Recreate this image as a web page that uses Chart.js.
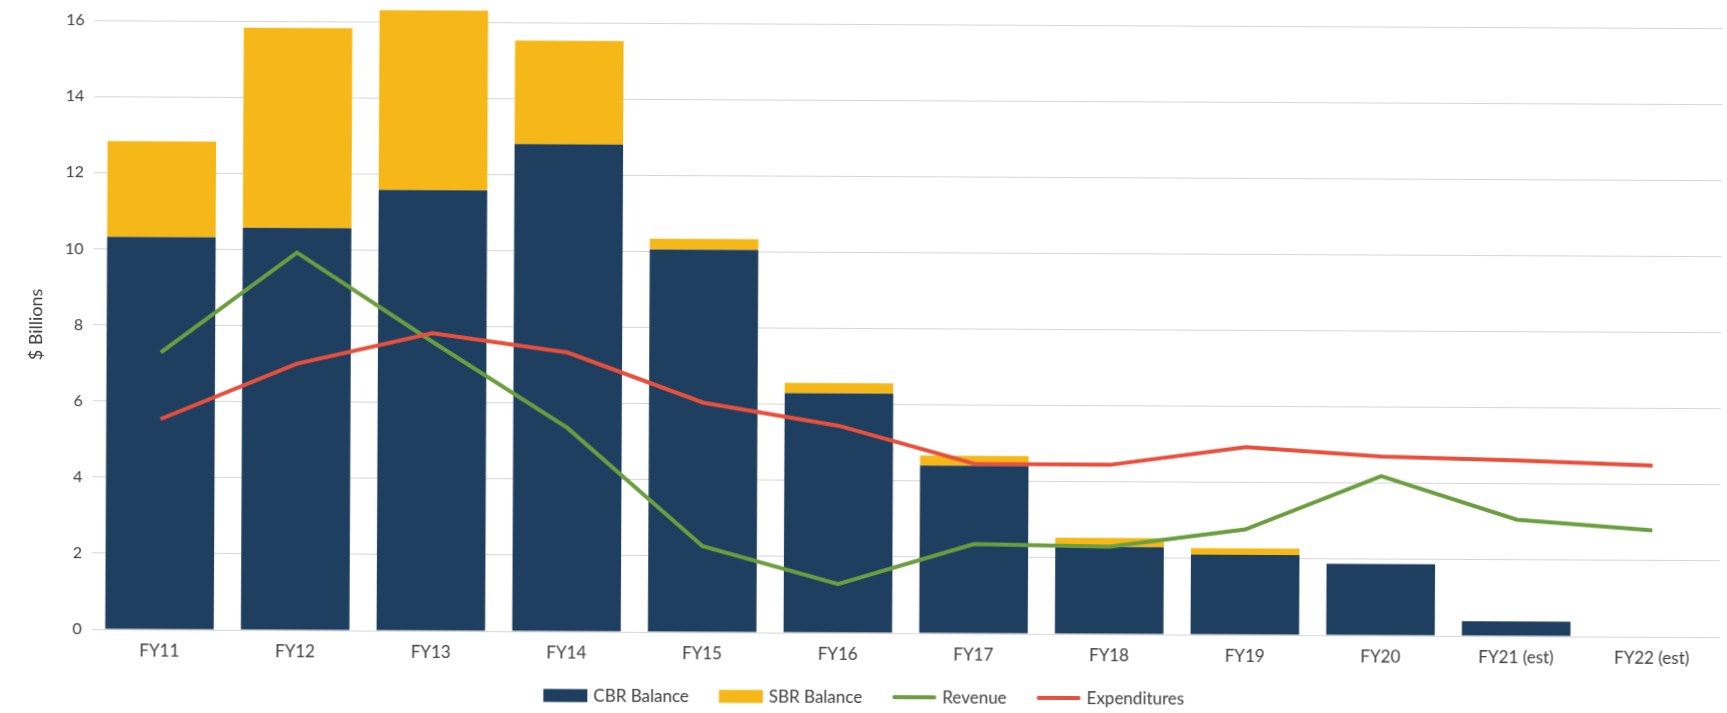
<!DOCTYPE html>
<html>
<head>
<meta charset="utf-8">
<script src="https://cdn.jsdelivr.net/npm/chart.js@4.4.1/dist/chart.umd.min.js"></script>
<style>
  html, body { margin: 0; padding: 0; background: #fff; overflow: hidden; }
  /* the source is a slightly tilted scan */
  #wrap { width: 1727px; height: 713px; transform: rotate(0.28deg); }
</style>
</head>
<body>
<div id="wrap"><canvas id="balanceChart" width="1727" height="713"></canvas></div>
<script>
const years = ["FY11", "FY12", "FY13", "FY14", "FY15", "FY16", "FY17", "FY18", "FY19", "FY20", "FY21 (est)", "FY22 (est)"];
const cbrBalance = [10.31, 10.57, 11.58, 12.8, 10.05, 6.29, 4.41, 2.29, 2.1, 1.88, 0.39, null];
const sbrBalance = [2.52, 5.25, 4.72, 2.72, 0.28, 0.27, 0.26, 0.24, 0.17, 0, 0, null];
const revenue = [7.28, 9.92, 7.6, 5.35, 2.26, 1.28, 2.35, 2.3, 2.77, 4.19, 3.06, 2.8];
const expenditures = [5.53, 7.0, 7.82, 7.33, 6.03, 5.44, 4.46, 4.45, 4.93, 4.7, 4.62, 4.5];
const yTicks = [0, 2, 4, 6, 8, 10, 12, 14, 16];

const TEXT = "#404040";
const FONT = "Lato, 'Open Sans', sans-serif";

Chart.defaults.font.family = FONT;
Chart.defaults.color = TEXT;

/* legend drawn by hand so the spacing can follow the source */
const bottomLegend = {
  id: "bottomLegend",
  afterDraw(chart) {
    const ctx = chart.ctx;
    const y = 697;
    const keyW = 44, gap = 6, spacing = 30;
    ctx.save();
    ctx.font = "17px " + FONT;
    ctx.textBaseline = "middle";
    const items = chart.data.datasets.map((ds) => ({
      label: ds.label,
      isLine: ds.type === "line",
      color: ds.type === "line" ? ds.borderColor : ds.backgroundColor,
    }));
    let total = 0;
    items.forEach((it) => {
      it.w = keyW + gap + ctx.measureText(it.label).width;
      total += it.w;
    });
    total += spacing * (items.length - 1);
    let x = chart.width / 2 + 2 - total / 2;
    items.forEach((it) => {
      if (it.isLine) {
        ctx.strokeStyle = it.color;
        ctx.lineWidth = 4;
        ctx.lineCap = "round";
        ctx.beginPath();
        ctx.moveTo(x + 2, y);
        ctx.lineTo(x + keyW - 2, y);
        ctx.stroke();
      } else {
        ctx.fillStyle = it.color;
        ctx.fillRect(x, y - 6.5, keyW, 13);
      }
      ctx.fillStyle = TEXT;
      ctx.fillText(it.label, x + keyW + gap, y + 1);
      x += it.w + spacing;
    });
    ctx.restore();
  },
};

new Chart(document.getElementById("balanceChart"), {
  type: "bar",
  data: {
    labels: years,
    datasets: [
      {
        label: "CBR Balance",
        data: cbrBalance,
        backgroundColor: "#1f3f60",
        stack: "balance",
        order: 2,
      },
      {
        label: "SBR Balance",
        data: sbrBalance,
        backgroundColor: "#f6b818",
        stack: "balance",
        order: 3,
        clip: false, // FY13 runs past the 16 line
      },
      {
        type: "line",
        label: "Revenue",
        data: revenue,
        borderColor: "#6b9e3f",
        backgroundColor: "#6b9e3f",
        borderWidth: 4,
        pointRadius: 0,
        tension: 0,
        stack: "revenue",
        order: 1,
      },
      {
        type: "line",
        label: "Expenditures",
        data: expenditures,
        borderColor: "#e8503d",
        backgroundColor: "#e8503d",
        borderWidth: 4,
        pointRadius: 0,
        tension: 0,
        stack: "expenditures",
        order: 0,
      },
    ],
  },
  options: {
    responsive: false,
    animation: false,
    datasets: {
      bar: { categoryPercentage: 1, barPercentage: 0.8, borderWidth: 0 },
    },
    layout: { padding: { left: 0, right: 6, top: 24, bottom: 40 } },
    plugins: {
      legend: { display: false },
      tooltip: { enabled: false },
    },
    scales: {
      x: {
        stacked: true,
        grid: { display: false, drawTicks: false },
        border: { display: false },
        ticks: { padding: 11, font: { size: 17 }, color: TEXT },
        afterFit: (s) => { s.height = 40; },
      },
      y: {
        stacked: true,
        min: 0,
        max: 16,
        afterBuildTicks: (s) => { s.ticks = yTicks.map((v) => ({ value: v })); },
        afterFit: (s) => { s.width = 93; },
        ticks: { padding: 10, font: { size: 16 }, color: TEXT },
        grid: { color: "#d6d6d6", lineWidth: 1, drawTicks: false },
        border: { display: false },
        title: {
          display: true,
          text: "$ Billions",
          font: { size: 18 },
          color: TEXT,
          padding: { top: 25, bottom: 0 },
        },
      },
    },
  },
  plugins: [bottomLegend],
});
</script>
</body>
</html>
